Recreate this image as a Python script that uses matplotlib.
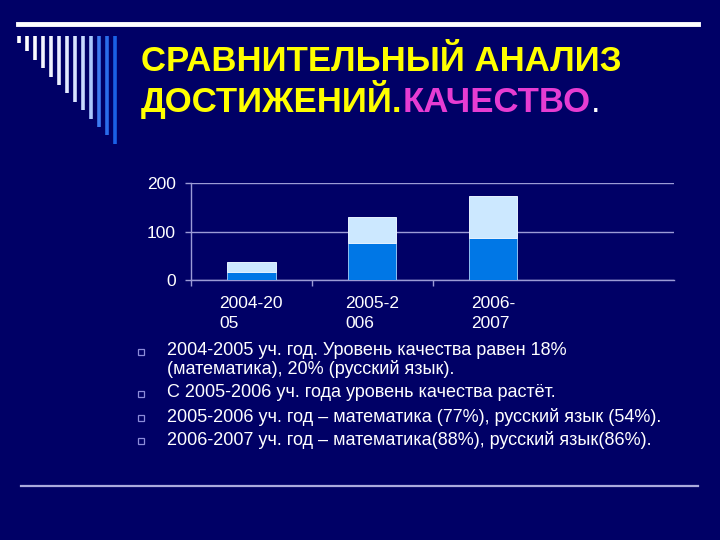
# slide: comparison of quality results, stacked bars + notes
import numpy as np
import matplotlib.pyplot as plt
from matplotlib.lines import Line2D

plt.rcParams['font.family'] = ['Liberation Sans', 'DejaVu Sans']

# data
years = ['2004-20\n05', '2005-2\n006', '2006-\n2007', '']
math = [18, 77, 88]
russian = [20, 54, 86]
yticks = [0, 100, 200]

title_1 = 'СРАВНИТЕЛЬНЫЙ АНАЛИЗ'
title_2a = 'ДОСТИЖЕНИЙ.'
title_2b = 'КАЧЕСТВО'
bullets = [
    '2004-2005 уч. год. Уровень качества равен 18%\n(математика), 20% (русский язык).',
    'С 2005-2006 уч. года уровень качества растёт.',
    '2005-2006 уч. год – математика (77%), русский язык (54%).',
    '2006-2007 уч. год – математика(88%), русский язык(86%).',
]

bg = '#000066'
grid_c = '#9b9bd6'
dark = '#0077e6'
light = '#cce8ff'

fig = plt.figure(figsize=(7.2, 5.4), dpi=100, facecolor=bg)

# overlay in pixel coords for the slide decorations and text
deco = fig.add_axes([0, 0, 1, 1])
deco.set_xlim(0, 720)
deco.set_ylim(540, 0)
deco.axis('off')

# top white rule and bottom rule
deco.add_line(Line2D([18, 698], [24, 24], color='white', lw=3.5))
deco.add_line(Line2D([21, 698], [486, 486], color='#aaaadd', lw=1.6))

# left stripes, white fading to blue
stripe_cols = ['#ffffff', '#ffffff', '#fafaff', '#f5f5ff', '#f0f2ff', '#eaeeff',
               '#e2eaff', '#d8e4ff', '#c8daff', '#aac8ff', '#3c7cf2', '#2a6cea', '#1a60e6']
for i, c in enumerate(stripe_cols):
    x = 19 + 8 * i
    deco.add_line(Line2D([x, x], [36, 43 + 8.4 * i], color=c, lw=2.6,
                         solid_capstyle='butt'))

# title
deco.text(141, 71, title_1, color='#ffff00', fontsize=25, fontweight='bold',
          va='baseline')
t2 = deco.text(141, 112, title_2a, color='#ffff00', fontsize=25,
               fontweight='bold', va='baseline')
t3 = deco.annotate(title_2b, xy=(1, 0), xycoords=t2, color='#e63cd2',
                   fontsize=25, fontweight='bold', va='bottom', ha='left')
deco.annotate('.', xy=(1, 0), xycoords=t3, color='white', fontsize=25,
              va='bottom', ha='left')

# bullet notes
line_y = [352, 394, 418, 441]
for y, txt in zip(line_y, bullets):
    deco.plot(141, y, marker='s', ms=5, mfc='none', mec='#8c8cd9', mew=0.9)
    deco.text(167, y - 10, txt, color='white', fontsize=13, va='top',
              linespacing=1.08)

# chart
ax = fig.add_axes([191 / 720, 1 - 280.3 / 540, 483 / 720, 97 / 540])
ax.set_facecolor('none')
x = np.arange(len(math))
ax.bar(x, math, width=0.4, color=dark, edgecolor='#8fc0f0', lw=0.7, zorder=3)
ax.bar(x, russian, width=0.4, bottom=math, color=light, edgecolor='#e6f2ff',
       lw=0.7, zorder=3)

ax.set_xlim(-0.5, len(years) - 0.5)
ax.set_ylim(0, 200)
ax.set_yticks(yticks)
ax.set_yticklabels([str(v) for v in yticks])
ax.yaxis.grid(True, color=grid_c, lw=1)
ax.set_axisbelow(True)

ax.set_xticks(np.arange(len(years)))
ax.set_xticklabels(years, multialignment='left', linespacing=1.45)
ax.set_xticks(np.arange(len(years) - 1) - 0.5, minor=True)
ax.tick_params(axis='x', which='major', length=0, pad=11, labelsize=12.5,
               labelcolor='white')
ax.tick_params(axis='x', which='minor', length=4, color=grid_c, width=1)
ax.tick_params(axis='y', length=4, color=grid_c, width=1, pad=7,
               labelsize=12.5, labelcolor='white')

for s in ['top', 'right']:
    ax.spines[s].set_visible(False)
for s in ['left', 'bottom']:
    ax.spines[s].set_color(grid_c)
    ax.spines[s].set_linewidth(1)

fig.savefig('out.png', dpi=100, facecolor=bg)
